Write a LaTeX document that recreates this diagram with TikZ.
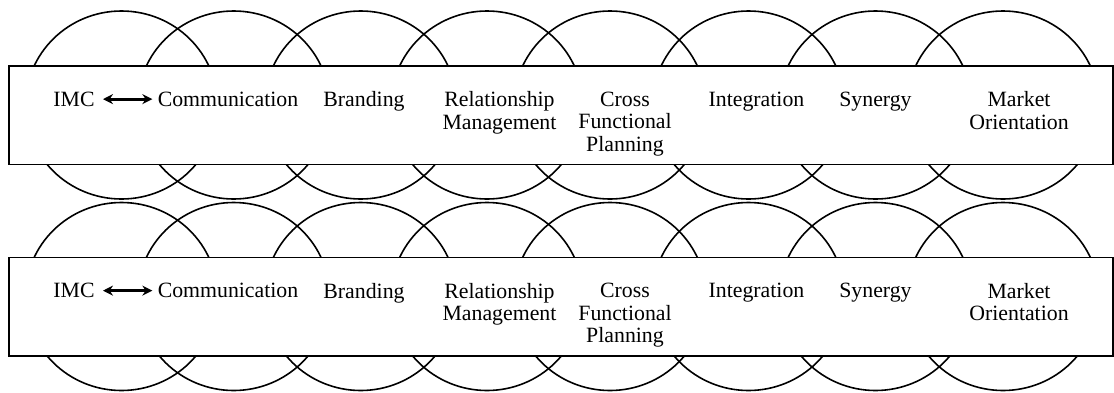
\documentclass[tikz,border=0pt]{standalone}
\usepackage{fontspec}
\setmainfont{Liberation Serif}
\usetikzlibrary{arrows.meta, positioning}

\begin{document}
\begin{tikzpicture}[
  x=0.5pt, y=-0.5pt,
  ring/.style={draw, line width=0.8pt},
  band/.style={rectangle, draw, fill=white, line width=0.8pt, minimum width=552pt, minimum height=49.25pt, inner sep=0pt},
  term/.style={align=center, anchor=north, inner sep=0pt, font=\fontsize{10.9}{11.25}\selectfont},
  arrow/.style={{Stealth[length=5pt, width=5pt]}-{Stealth[length=5pt, width=5pt]}, line width=1.5pt, shorten <=4pt, shorten >=2.5pt}
]
  \useasboundingbox (0,0) rectangle (1114,392);

  \foreach \row/\dy in {1/0, 2/191.5} {
    \begin{scope}[shift={(0,\dy)}]
      \foreach \cx in {121.5, 233.7, 360.7, 487, 610, 748.5, 875.5, 1003}
        \draw[ring] (\cx,105) ellipse [x radius=96, y radius=94];
      \node[band] (band\row) at (561,115.25) {};

      \node[term] (imc\row) at (74,91.4) {IMC};
      \node[term] (comm\row) at (228,91.4) {Communication};
      \node[term] (brand\row) at (364,91.4) {Branding};
      \node[term] (relm\row) at (499.5,91.4) {Relationship\\Management};
      \node[term] (cfp\row) at (625,91.4) {Cross\\Functional\\Planning};
      \node[term] (integ\row) at (756.5,91.4) {Integration};
      \node[term] (syn\row) at (875.5,91.4) {Synergy};
      \node[term] (mkt\row) at (1019,91.4) {Market\\Orientation};

      \draw[arrow] (imc\row) -- (comm\row);
    \end{scope}
  }
\end{tikzpicture}
\end{document}
